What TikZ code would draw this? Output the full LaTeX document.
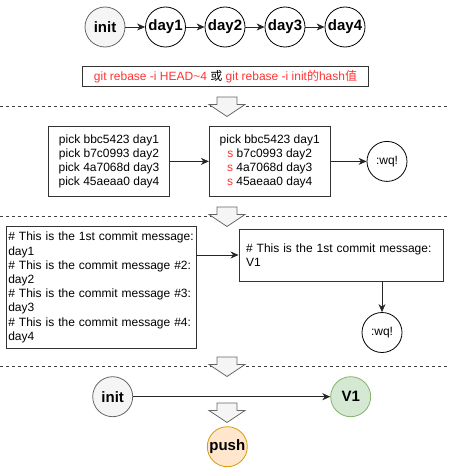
\documentclass[tikz,border=0pt]{standalone}
\usepackage{fontspec}
\setmainfont{Liberation Sans}
\newfontfamily\cjk{Noto Sans CJK SC}
\usetikzlibrary{arrows.meta, positioning}

\definecolor{cmdred}{HTML}{FF3333}
\definecolor{initfill}{HTML}{F5F5F5}
\definecolor{initline}{HTML}{666666}
\definecolor{vfill}{HTML}{D5E8D4}
\definecolor{vline}{HTML}{82B366}
\definecolor{pushfill}{HTML}{FFE6CC}
\definecolor{pushline}{HTML}{D79B00}

\begin{document}
\begin{tikzpicture}[x=1pt, y=-1pt,
  commit/.style={circle, draw, line width=0.8pt, minimum size=40pt, inner sep=0pt,
    font=\fontsize{15}{18}\selectfont\bfseries},
  quit/.style={circle, draw, line width=0.8pt, minimum size=40pt, inner sep=0pt,
    font=\fontsize{12}{14}\selectfont},
  box/.style={draw=black!80, line width=0.9pt, inner sep=0pt,
    font=\fontsize{12}{14.2}\selectfont},
  link/.style={-{Stealth[length=8pt,width=7pt,inset=2.5pt]}, line width=0.8pt, draw=black!85},
  sep/.style={dash pattern=on 3pt off 3pt, line width=0.8pt, draw=black!75},
  bigarrow/.style={fill=initfill, draw=initline, line width=0.8pt, line join=miter}]
  \useasboundingbox (0,0) rectangle (448,471);

  % righe di separazione
  \draw[sep] (0,106.5) -- (448,106.5);
  \draw[sep] (0,216.5) -- (448,216.5);
  \draw[sep] (0,366.5) -- (448,366.5);

  % frecce grandi
  \foreach \t in {97,207,357,403}
    \draw[bigarrow] (217,\t) -- (237,\t) -- (237,\t+7.5) -- (245,\t+7.5)
      -- (227,\t+19.5) -- (209,\t+7.5) -- (217,\t+7.5) -- cycle;

  % commit iniziali
  \node[commit, fill=initfill, draw=initline] (init) at (105,27) {init};
  \node[commit] (day1) at (165.5,27) {day1};
  \node[commit] (day2) at (225,27) {day2};
  \node[commit] (day3) at (285,27) {day3};
  \node[commit] (day4) at (345,27) {day4};
  \draw[link] (init) -- (day1);
  \draw[link] (day1) -- (day2);
  \draw[link] (day2) -- (day3);
  \draw[link] (day3) -- (day4);

  % comando
  \node[box, minimum width=285.6pt, minimum height=20.7pt] (cmd) at (225.5,76.3)
    {\color{cmdred}git rebase -i HEAD\textasciitilde4 \color{black}{\cjk 或}
     \color{cmdred}git rebase -i init{\cjk 的}hash{\cjk 值}};

  % lista pick
  \node[box, minimum width=120.3pt, minimum height=69.3pt, align=center] (picks) at (109,161.4)
    {pick bbc5423 day1\\pick b7c0993 day2\\pick 4a7068d day3\\pick 45aeaa0 day4};
  \node[box, minimum width=120.7pt, minimum height=69.3pt, align=center] (squash) at (269.7,161.4)
    {pick bbc5423 day1\\{\color{cmdred}s} b7c0993 day2\\{\color{cmdred}s} 4a7068d day3\\{\color{cmdred}s} 45aeaa0 day4};
  \node[quit] (wq1) at (387,161.4) {:wq!};
  \draw[link] (picks) -- (squash);
  \draw[link] (squash) -- (wq1);

  % messaggi
  \node[box, minimum width=189.3pt, minimum height=121.6pt, align=left,
    text width=186pt, inner xsep=1.5pt] (msgs) at (101.3,287.5)
    {\# This is the 1st commit message:\\day1\\\# This is the commit message \#2:\\day2\\
     \# This is the commit message \#3:\\day3\\\# This is the commit message \#4:\\day4};
  \node[box, minimum width=204pt, minimum height=52pt, align=left,
    text width=190pt, inner xsep=7pt] (msgv) at (341,255)
    {\# This is the 1st commit message:\\V1};
  \node[quit] (wq2) at (382,332.5) {:wq!};
  \coordinate (msgout) at (msgs.east |- msgv.west);
  \draw[link] (msgout) -- (msgv.west);
  \draw[link] (msgv.south -| wq2) -- (wq2);

  % risultato
  \node[commit, fill=initfill, draw=initline] (init2) at (112.7,396.7) {init};
  \node[commit, fill=vfill, draw=vline] (v1) at (350.7,396.7) {V1};
  \node[commit, fill=pushfill, draw=pushline] (push) at (227.3,446.7) {push};
  \draw[link] (init2) -- (v1);
\end{tikzpicture}
\end{document}
